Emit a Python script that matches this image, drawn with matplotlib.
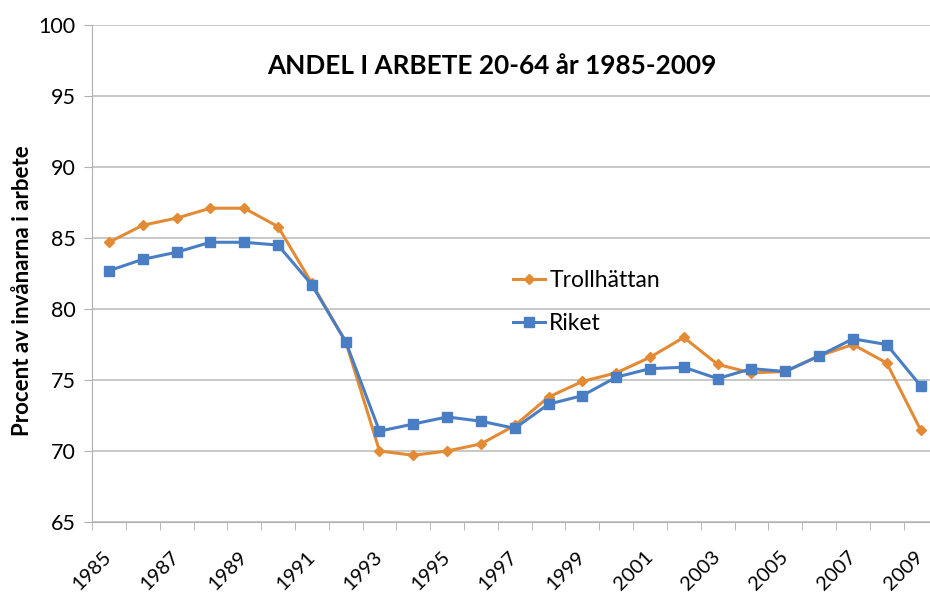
import numpy as np
import matplotlib
matplotlib.use("Agg")
import matplotlib.pyplot as plt
import matplotlib.transforms as mtransforms

# Data
years = list(range(1985, 2010))
trollhattan = [84.7, 85.9, 86.4, 87.1, 87.1, 85.8, 81.8, 77.7, 70.0, 69.7,
               70.0, 70.5, 71.8, 73.8, 74.9, 75.5, 76.6, 78.0, 76.1, 75.5,
               75.6, 76.7, 77.5, 76.2, 71.5]
riket = [82.7, 83.5, 84.0, 84.7, 84.7, 84.5, 81.7, 77.7, 71.4, 71.9,
         72.4, 72.1, 71.6, 73.3, 73.9, 75.2, 75.8, 75.9, 75.1, 75.8,
         75.6, 76.7, 77.9, 77.5, 74.6]
tick_years = years[::2]

plt.rcParams['font.family'] = ['Lato', 'DejaVu Sans']

fig = plt.figure(figsize=(9.3, 5.97), dpi=100)
ax = fig.add_axes([0.099, 0.1256, 0.909, 0.8325])

x = np.arange(len(years))
ax.plot(x, trollhattan, color='#E38A34', marker='D', markersize=5.5, linewidth=2.2,
        label='Trollhättan', clip_on=False, zorder=3)
ax.plot(x, riket, color='#4A7EC4', marker='s', markersize=7.5, linewidth=2.2,
        label='Riket', clip_on=False, zorder=3)

ax.set_ylim(65, 100)
ax.set_yticks(range(65, 101, 5))
ax.set_xlim(-0.5, len(years) - 0.5)
ax.set_xticks([years.index(y) for y in tick_years])
ax.set_xticklabels([str(y) for y in tick_years], rotation=45, fontsize=14.5,
                   ha='right', va='center', rotation_mode='anchor')
offset = mtransforms.ScaledTranslation(5 / 72, 0, fig.dpi_scale_trans)
for lbl in ax.get_xticklabels():
    lbl.set_transform(lbl.get_transform() + offset)
ax.set_xticks(np.arange(-0.5, len(years)), minor=True)
ax.tick_params(axis='x', which='major', length=0, pad=23)
ax.tick_params(axis='x', which='minor', length=6, color='#B0B0B0')
ax.tick_params(axis='y', length=6, color='#B0B0B0', labelsize=15.5, pad=6)

ax.grid(axis='y', color='#BFBFBF', linewidth=1.2)
ax.set_axisbelow(True)
for s in ['top', 'right']:
    ax.spines[s].set_visible(False)
ax.spines['left'].set_color('#B0B0B0')
ax.spines['bottom'].set_color('#B0B0B0')

ax.set_ylabel('Procent av invånarna i arbete', fontsize=16, fontweight='bold')
ax.yaxis.set_label_coords(-0.07, 0.465)
fig.text(0.529, 0.889, 'ANDEL I ARBETE 20-64 år 1985-2009', ha='center', va='center',
         fontsize=18.8, fontweight='bold')

leg = ax.legend(loc='center left', bbox_to_anchor=(0.473, 0.443), frameon=False,
                fontsize=16.5, handlelength=1.4, labelspacing=0.95, handletextpad=0.2)

fig.savefig('out.png', dpi=100)
